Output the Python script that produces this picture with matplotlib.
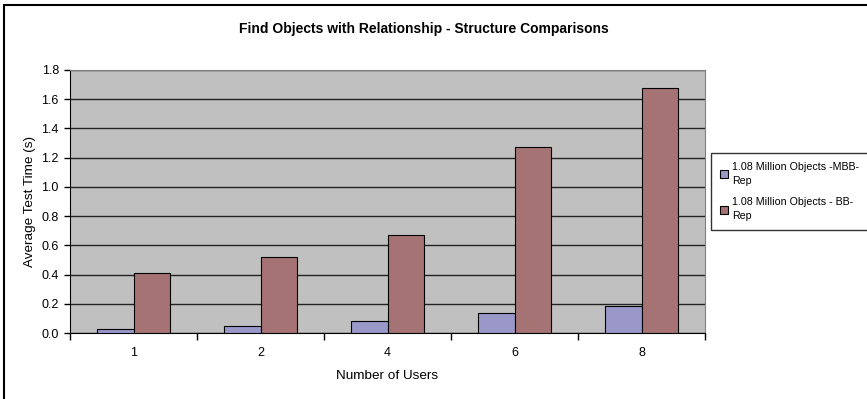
import matplotlib
matplotlib.use("Agg")
import matplotlib.pyplot as plt
from matplotlib.patches import Rectangle
import numpy as np

plt.rcParams['font.family'] = ['Liberation Sans', 'DejaVu Sans']

categories = ["1", "2", "4", "6", "8"]
mbb_rep = [0.03, 0.045, 0.085, 0.135, 0.185]
bb_rep = [0.41, 0.52, 0.67, 1.27, 1.68]
series_labels = ["1.08 Million Objects -MBB-\nRep", "1.08 Million Objects - BB-\nRep"]
y_ticks = [0.0, 0.2, 0.4, 0.6, 0.8, 1.0, 1.2, 1.4, 1.6, 1.8]

W, H = 867, 399
fig = plt.figure(figsize=(W / 100, H / 100), dpi=100)
fig.patch.set_facecolor("white")

# chart-area border (runs off the right and bottom edges)
fig.add_artist(Rectangle((4 / W, -0.05), 1.1, 1 - 5 / H + 0.05, transform=fig.transFigure,
                         fill=False, edgecolor="black", linewidth=1.5))

ax = fig.add_axes([70 / W, (H - 333) / H, 635 / W, 263 / H])
ax.set_facecolor("#C0C0C0")

x = np.arange(len(categories))
bw = 0.286
ax.bar(x - bw / 2, mbb_rep, bw, color="#9A98C8", edgecolor="black", linewidth=0.8,
       label=series_labels[0], zorder=3)
ax.bar(x + bw / 2, bb_rep, bw, color="#A57373", edgecolor="black", linewidth=0.8,
       label=series_labels[1], zorder=3)

ax.set_xlim(-0.5, len(categories) - 0.5)
ax.set_ylim(0, 1.8)
ax.set_yticks(y_ticks)
ax.set_yticklabels([f"{v:.1f}" for v in y_ticks], fontsize=9)
ax.yaxis.grid(True, color="#222222", linewidth=1, zorder=1)
ax.set_axisbelow(True)

ax.set_xticks(x)
ax.set_xticklabels(categories, fontsize=9)
ax.set_xticks(np.arange(-0.5, len(categories)), minor=True)
ax.tick_params(axis="x", which="major", length=0, pad=10)
ax.tick_params(axis="x", which="minor", length=5, width=1, direction="out")
ax.tick_params(axis="y", length=4, width=1, direction="out", pad=4)

for side in ("top", "right"):
    ax.spines[side].set_color("#808080")
ax.spines["left"].set_color("black")
ax.spines["bottom"].set_color("black")

ax.set_xlabel("Number of Users", fontsize=9.7, labelpad=8)
ax.set_ylabel("Average Test Time (s)", fontsize=9.7, labelpad=4)

fig.text(424 / W, 1 - 29 / H, "Find Objects with Relationship - Structure Comparisons",
         ha="center", va="center", fontsize=10, fontweight="bold")

leg = fig.legend(loc="upper left", bbox_to_anchor=(711 / W, 1 - 153 / H),
                 fontsize=7.7, frameon=True, fancybox=False, edgecolor="black",
                 handlelength=0.75, handleheight=0.75, handletextpad=0.4,
                 borderpad=0.85, labelspacing=1.05, borderaxespad=0)
leg.get_frame().set_linewidth(1)
for t in leg.get_texts():
    t.set_linespacing(1.5)

fig.savefig("out.png", dpi=100)
